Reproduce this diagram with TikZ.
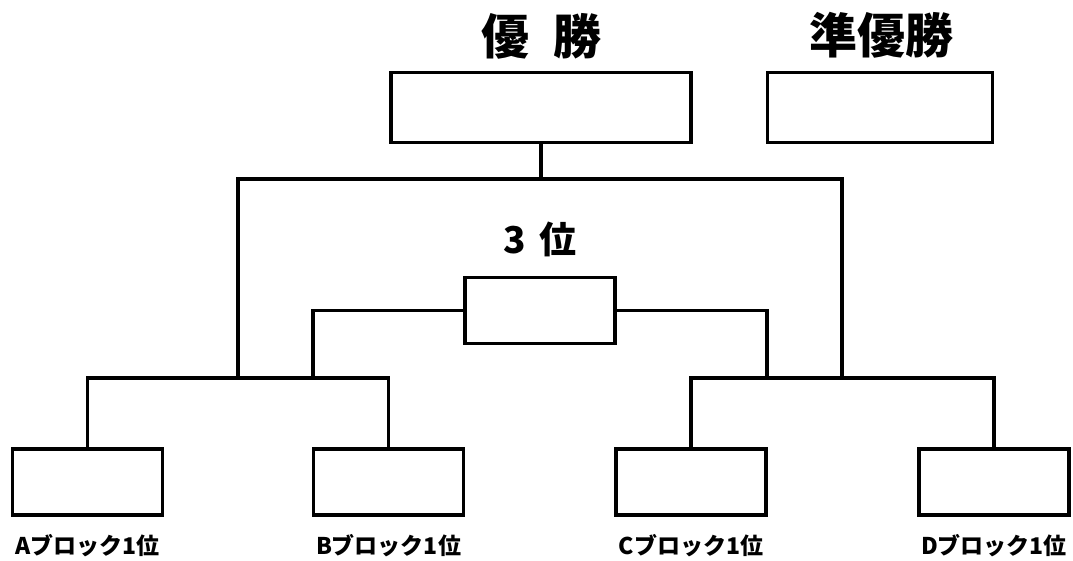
\documentclass[tikz,border=0pt]{standalone}
\usepackage{fontspec}
\setmainfont{Noto Sans CJK JP}
\usetikzlibrary{positioning}

\begin{document}
\begin{tikzpicture}[line width=3.2pt, box/.style={draw, inner sep=0pt, minimum width=150pt, minimum height=66pt}, title/.style={font=\bfseries\fontsize{48pt}{48pt}\selectfont}, blocklabel/.style={font=\bfseries\fontsize{23pt}{23pt}\selectfont}]
  \useasboundingbox (0pt, 0pt) rectangle (1073pt, -560pt);
  % top boxes
  \draw (541.0pt, -107.5pt)node[box, minimum width=300pt, minimum height=70pt](win){};
  \draw (880.0pt, -107.5pt)node[box, minimum width=225pt, minimum height=70pt](second){};
  \draw (541.0pt, -36.0pt)node[title](wintext){優\hspace{0.5em}勝};
  \draw (881.0pt, -35.0pt)node[title](secondtext){準優勝};
  % third place
  \draw (540.0pt, -310.5pt)node[box](third){};
  \draw (540.0pt, -239.0pt)node[title, font=\bfseries\fontsize{37pt}{37pt}\selectfont](thirdtext){3\hspace{0.35em}位};
  % block winners
  \draw (87.5pt, -482.0pt)node[box](A){};
  \draw (388.5pt, -482.0pt)node[box](B){};
  \draw (691.0pt, -482.0pt)node[box](C){};
  \draw (994.0pt, -482.0pt)node[box](D){};
  \draw (87.5pt, -546.0pt)node[blocklabel](Alabel){Aブロック1位};
  \draw (388.5pt, -546.0pt)node[blocklabel](Blabel){Bブロック1位};
  \draw (691.0pt, -546.0pt)node[blocklabel](Clabel){Cブロック1位};
  \draw (994.0pt, -546.0pt)node[blocklabel](Dlabel){Dブロック1位};
  % junctions
  \coordinate (ab) at (238.0pt, -378.0pt);
  \coordinate (ab3) at (313.0pt, -378.0pt);
  \coordinate (cd3) at (767.0pt, -378.0pt);
  \coordinate (cd) at (842.0pt, -378.0pt);
  \coordinate (top) at (541.0pt, -179.0pt);
  % brackets
  \draw (A.north) |- (ab) -| (B.north);
  \draw (C.north) |- (cd) -| (D.north);
  \draw (ab) |- (top) -| (cd);
  \draw (win.south) -- (top);
  \draw (ab3) |- (third.west);
  \draw (third.east) -| (cd3);
\end{tikzpicture}
\end{document}
